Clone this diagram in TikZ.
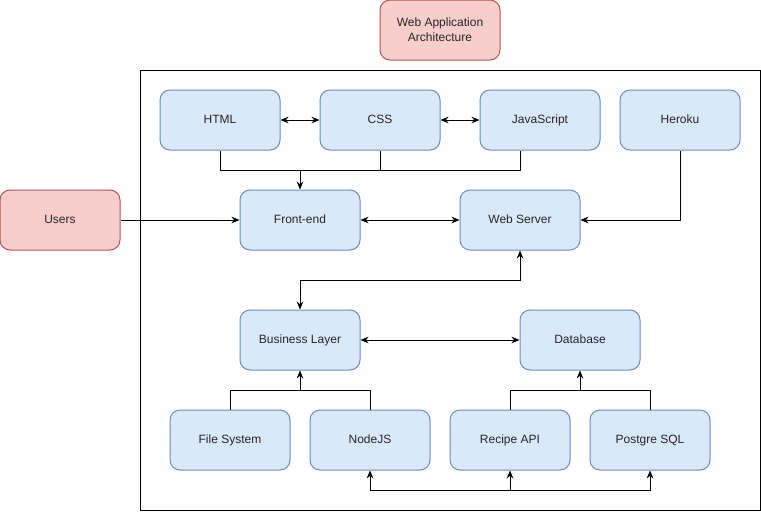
\documentclass[tikz,border=0pt]{standalone}
\usepackage{fontspec}
\setmainfont{Liberation Sans}
\usetikzlibrary{arrows.meta}

\definecolor{boxblue}{HTML}{DAE8FC}
\definecolor{lineblue}{HTML}{6C8EBF}
\definecolor{boxred}{HTML}{F8CECC}
\definecolor{linered}{HTML}{B85450}

\tikzset{
  box/.style={draw=lineblue, fill=boxblue, line width=0.75pt, rounded corners=7.5pt,
    minimum width=90pt, minimum height=45pt, inner sep=0pt, align=center,
    font=\fontsize{9pt}{11pt}\selectfont, text=black!85},
  part/.style={box, text height=6.5pt, text depth=2pt},
  outside/.style={part, draw=linered, fill=boxred},
  heading/.style={box, draw=linered, fill=boxred},
  link/.style={black, line width=0.75pt},
}

\begin{document}
\begin{tikzpicture}[x=0.75pt,y=-0.75pt,>={Stealth[length=6pt,width=5pt]}]

\useasboundingbox (0,0) rectangle (761,511);

\draw[link] (140,70) rectangle (760,510);

\node[heading] (title) at (440,30) {Web Application\\Architecture};
\node[outside] (users) at (60,220) {Users};

\node[part] (html) at (220,120) {HTML};
\node[part] (css) at (380,120) {CSS};
\node[part] (js) at (540,120) {JavaScript};
\node[part] (heroku) at (680,120) {Heroku};

\node[part] (front) at (300,220) {Front-end};
\node[part] (server) at (520,220) {Web Server};

\node[part] (business) at (300,340) {Business Layer};
\node[part] (database) at (580,340) {Database};

\node[part] (files) at (230,440) {File System};
\node[part] (nodejs) at (370,440) {NodeJS};
\node[part] (recipe) at (510,440) {Recipe API};
\node[part] (postgre) at (650,440) {Postgre SQL};

\coordinate (webjoin) at (300,170);
\coordinate (bizjoin) at (300,390);
\coordinate (dbjoin) at (580,390);
\coordinate (apijoin) at (510,490);

% front-end sources
\draw[link,<->] (html) -- (css);
\draw[link,<->] (css) -- (js);
\draw[link] (html) |- (webjoin);
\draw[link] (css) |- (webjoin);
\draw[link] ([xshift=-15pt]js.south) |- (webjoin);
\draw[link,->] (webjoin) -- (front);

\draw[link,->] (users) -- (front);
\draw[link,<->] (front) -- (server);
\draw[link,->] (heroku) |- (server);

\draw[link,<->] (server.south) -- ++(0,30) -| (business.north);
\draw[link,<->] (business) -- (database);

% lower layer
\draw[link] (files) |- (bizjoin);
\draw[link] (nodejs) |- (bizjoin);
\draw[link,->] (bizjoin) -- (business);
\draw[link] (recipe) |- (dbjoin);
\draw[link] (postgre) |- (dbjoin);
\draw[link,->] (dbjoin) -- (database);

\draw[link,->] (apijoin) -| (nodejs);
\draw[link,->] (apijoin) -| (postgre);
\draw[link,->] (apijoin) -- (recipe);

\end{tikzpicture}
\end{document}
